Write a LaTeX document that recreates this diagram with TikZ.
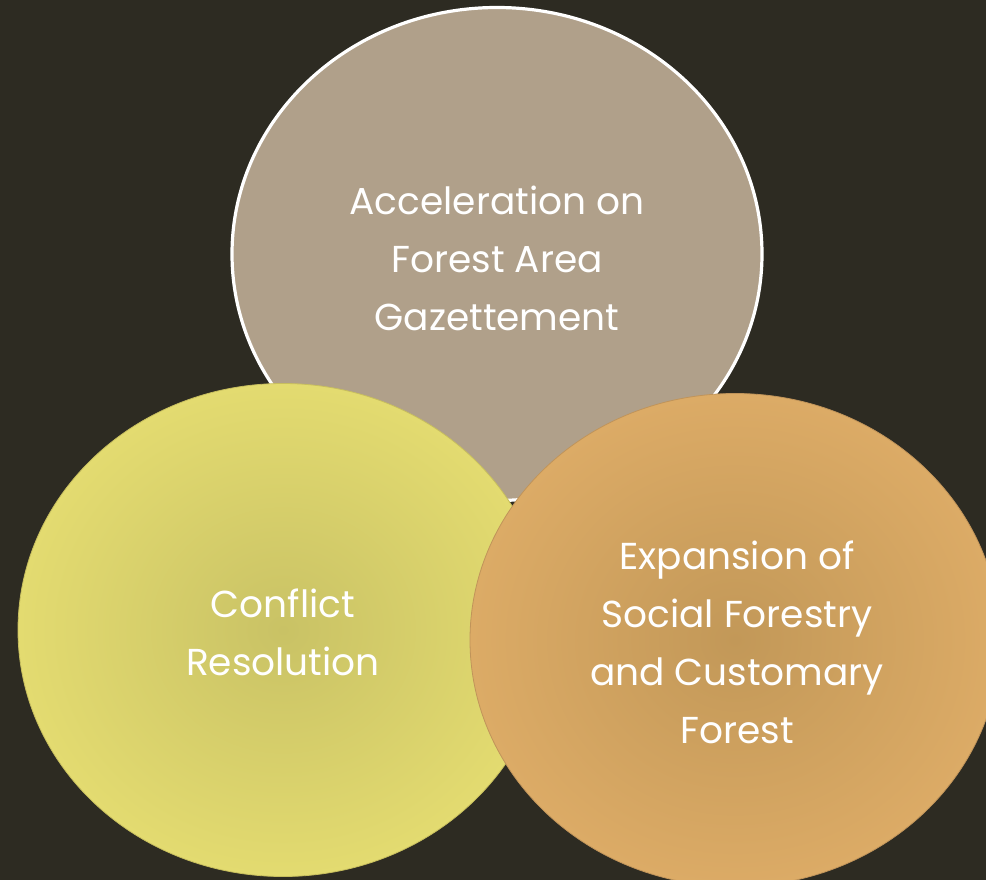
\documentclass[tikz,border=0pt]{standalone}
\usepackage{fontspec}
\setmainfont{Poppins}
\usetikzlibrary{shapes.geometric}
\definecolor{bgcol}{HTML}{2D2B22}
\definecolor{topfill}{HTML}{B0A08A}
\definecolor{yelin}{HTML}{C9C265}
\definecolor{yelout}{HTML}{E3DB70}
\definecolor{yeledge}{HTML}{C7BE5E}
\definecolor{orin}{HTML}{C29858}
\definecolor{orout}{HTML}{DCAB66}
\definecolor{oredge}{HTML}{C0945A}
\tikzset{
  bubble/.style={ellipse, inner sep=0pt, minimum width=530pt, minimum height=493pt,
    text=white, align=center, font={\fontsize{37.5}{58}\selectfont}},
}
\begin{document}
\begin{tikzpicture}[x=1pt,y=-1pt]
\fill[bgcol] (0,0) rectangle (986,880);
\useasboundingbox (0,0) rectangle (986,880);
\clip (0,0) rectangle (986,880);
\node[bubble, fill=topfill, draw=white, line width=3.2pt] (acc) at (497,254) {};
\node[bubble, shading=radial, inner color=yelin, outer color=yelout, draw=yeledge, line width=0.8pt] (conf) at (283,630) {};
\node[bubble, shading=radial, inner color=orin, outer color=orout, draw=oredge, line width=0.8pt] (exp) at (735,640) {};
\node[bubble, minimum width=0pt, minimum height=0pt] (acct) at (497,258) {Acceleration on\\Forest Area\\Gazettement};
\node[bubble, minimum width=0pt, minimum height=0pt] (conft) at (283,632) {Conflict\\Resolution};
\node[bubble, minimum width=0pt, minimum height=0pt] (expt) at (737,642) {Expansion of\\Social Forestry\\and Customary\\Forest};
\end{tikzpicture}
\end{document}
